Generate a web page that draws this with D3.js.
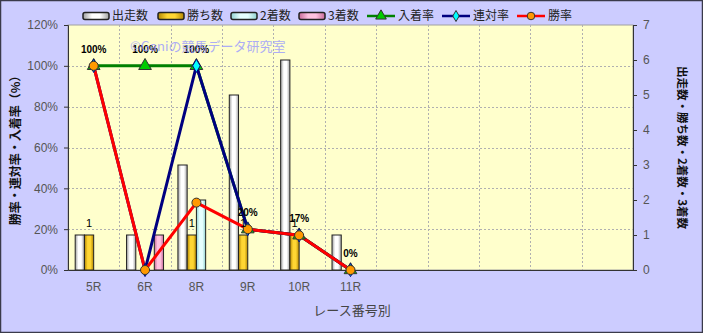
<!DOCTYPE html>
<html>
<head>
<meta charset="utf-8">
<script src="https://cdn.jsdelivr.net/npm/d3@7"></script>
<style>
  body { margin: 0; background: #fff; }
  svg text { font-family: "Liberation Sans", "Noto Sans CJK JP", sans-serif; }
  .jp { font-family: "Noto Sans CJK JP", sans-serif; }
</style>
</head>
<body>
<div id="chart"></div>
<script>
// categories (11 slots, only the first 6 used)
const races = ["5R", "6R", "8R", "9R", "10R", "11R", "", "", "", "", ""];

// bar series (right axis, counts)
const starts  = [1, 1, 3, 5, 6, 1];
const wins    = [1, 0, 1, 1, 1, 0];
const seconds = [0, 0, 2, 0, 0, 0];
const thirds  = [0, 1, 0, 0, 0, 0];

// line series (left axis, %)
const placeRate  = [100, 100, 100, 20, 17, 0];
const rentaiRate = [100, 0, 100, 20, 17, 0];
const winRate    = [100, 0, 33, 20, 17, 0];

const leftTicks = [0, 20, 40, 60, 80, 100, 120];
const rightTicks = [0, 1, 2, 3, 4, 5, 6, 7];

const width = 703, height = 333;
const margin = { top: 25, right: 70, bottom: 63, left: 68 };
const plotW = width - margin.left - margin.right;
const plotH = height - margin.top - margin.bottom;

const svg = d3.select("#chart").append("svg")
    .attr("width", width)
    .attr("height", height);

// outer background + border
svg.append("rect")
    .attr("x", 0.5).attr("y", 0.5)
    .attr("width", width - 1).attr("height", height - 1)
    .style("fill", "#ccccff")
    .style("stroke", "#3a3a4a")
    .style("stroke-width", 1.5);

const defs = svg.append("defs");
// bar gradients (left-right shading like the old excel look)
const barColors = [
    { id: "gStart",  light: "#ffffff", dark: "#a0a0a0" },
    { id: "gWin",    light: "#ffd633", dark: "#b38600" },
    { id: "gSecond", light: "#e6ffff", dark: "#8fd0d0" },
    { id: "gThird",  light: "#ffc2e0", dark: "#c76a98" }
];
barColors.forEach(c => {
    const g = defs.append("linearGradient").attr("id", c.id)
        .attr("x1", "0%").attr("x2", "100%").attr("y1", "0%").attr("y2", "0%");
    g.append("stop").attr("offset", "0%").attr("stop-color", c.dark);
    g.append("stop").attr("offset", "35%").attr("stop-color", c.light);
    g.append("stop").attr("offset", "65%").attr("stop-color", c.light);
    g.append("stop").attr("offset", "100%").attr("stop-color", c.dark);
});

const g = svg.append("g")
    .attr("transform", "translate(" + margin.left + "," + margin.top + ")");

// plot area
g.append("rect")
    .attr("width", plotW).attr("height", plotH)
    .style("fill", "#ffffcc")
    .style("stroke", "#a0a0a0")
    .style("stroke-width", 1);

// scales
const x = d3.scaleBand().domain(d3.range(races.length)).range([0, plotW]).padding(0);
const series = ["start", "win", "second", "third"];
const xs = d3.scaleBand().domain(series)
    .range([x.step() * 0.14, x.step() * 0.86]).padding(0);
const yL = d3.scaleLinear().domain([0, 120]).range([plotH, 0]);
const yR = d3.scaleLinear().domain([0, 7]).range([plotH, 0]);

// gridlines
g.append("g").selectAll("line")
    .data(leftTicks.slice(1, -1))
    .enter().append("line")
    .attr("x1", 0).attr("x2", plotW)
    .attr("y1", d => Math.round(yL(d)) + 0.5).attr("y2", d => Math.round(yL(d)) + 0.5)
    .style("stroke", "#b0b0b0").style("stroke-dasharray", "2,2");
g.append("g").selectAll("line")
    .data(d3.range(1, races.length))
    .enter().append("line")
    .attr("x1", d => Math.round(x(d)) + 0.5).attr("x2", d => Math.round(x(d)) + 0.5)
    .attr("y1", 0).attr("y2", plotH)
    .style("stroke", "#b0b0b0").style("stroke-dasharray", "2,2");

// bars
const barSeries = [
    { key: "start", values: starts, fill: "url(#gStart)" },
    { key: "win", values: wins, fill: "url(#gWin)" },
    { key: "second", values: seconds, fill: "url(#gSecond)" },
    { key: "third", values: thirds, fill: "url(#gThird)" }
];
barSeries.forEach(s => {
    g.append("g").selectAll("rect")
        .data(s.values.map((v, i) => ({ v, i })).filter(d => d.v > 0))
        .enter().append("rect")
        .attr("x", d => x(d.i) + xs(s.key))
        .attr("y", d => yR(d.v))
        .attr("width", xs.bandwidth())
        .attr("height", d => plotH - yR(d.v))
        .style("fill", s.fill)
        .style("stroke", "#222")
        .style("stroke-width", 1);
});

// axes
const axisL = g.append("g")
    .call(d3.axisLeft(yL).tickValues(leftTicks).tickSize(4).tickFormat(d => d + "%"));
const axisR = g.append("g").attr("transform", "translate(" + plotW + ",0)")
    .call(d3.axisRight(yR).tickValues(rightTicks).tickSize(4).tickFormat(d3.format("d")));
const axisB = g.append("g").attr("transform", "translate(0," + plotH + ")")
    .call(d3.axisBottom(x).tickSize(0).tickFormat(i => races[i]));
[axisL, axisR, axisB].forEach(a => {
    a.select(".domain").style("stroke", "#333");
    a.selectAll(".tick line").style("stroke", "#333");
    a.selectAll("text").style("font-size", "12px").style("fill", "#555")
        .style("font-family", "'Liberation Sans', sans-serif");
});
axisL.selectAll("text").attr("x", -10);
axisR.selectAll("text").attr("x", 10);
axisB.selectAll("text").attr("dy", "1.5em");

// axis titles
svg.append("text").attr("class", "jp")
    .attr("transform", "translate(20," + (margin.top + plotH / 2) + ") rotate(-90)")
    .attr("text-anchor", "middle")
    .style("font-size", "12px").style("font-weight", "bold").style("fill", "#111")
    .text("勝率・連対率・入着率（%）");
svg.append("text").attr("class", "jp")
    .attr("transform", "translate(678," + (margin.top + plotH / 2) + ") rotate(90)")
    .attr("text-anchor", "middle")
    .style("font-size", "11.5px").style("font-weight", "bold").style("fill", "#111")
    .text("出走数・勝ち数・2着数・3着数");
svg.append("text").attr("class", "jp")
    .attr("x", 352).attr("y", 315)
    .attr("text-anchor", "middle")
    .style("font-size", "13px").style("fill", "#444")
    .text("レース番号別");

// watermark
svg.append("text").attr("class", "jp")
    .attr("x", 130).attr("y", 51)
    .style("font-size", "13px").style("fill", "#9999ff").style("opacity", 0.8)
    .text("©Ganiの競馬データ研究室");

// lines
const cx = i => x(i) + x.bandwidth() / 2;
const line = d3.line().x((d, i) => cx(i)).y(d => yL(d));
const lineSeries = [
    { key: "place", values: placeRate, color: "#008000", marker: "triangle", mfill: "#00cc00" },
    { key: "rentai", values: rentaiRate, color: "#000080", marker: "diamond", mfill: "#00ffff" },
    { key: "win", values: winRate, color: "#ff0000", marker: "circle", mfill: "#ff9900" }
];
lineSeries.forEach(s => {
    g.append("path")
        .datum(s.values)
        .attr("d", line)
        .style("fill", "none")
        .style("stroke", s.color)
        .style("stroke-width", 3)
        .style("stroke-linejoin", "round");
});
const symbolOf = { triangle: d3.symbolTriangle, diamond: d3.symbolDiamond, circle: d3.symbolCircle };
const sizeOf = { triangle: 70, diamond: 50, circle: 64 };
lineSeries.forEach(s => {
    g.append("g").selectAll("path")
        .data(s.values)
        .enter().append("path")
        .attr("transform", (d, i) => "translate(" + cx(i) + "," + yL(d) + ")")
        .attr("d", d3.symbol().type(symbolOf[s.marker]).size(sizeOf[s.marker]))
        .style("fill", s.mfill)
        .style("stroke", s.marker === "diamond" ? "#000080" : "#333")
        .style("stroke-width", 1);
});

// data labels for 入着率
g.append("g").selectAll("text")
    .data(placeRate)
    .enter().append("text")
    .attr("x", (d, i) => cx(i))
    .attr("y", d => yL(d) - 13)
    .attr("text-anchor", "middle")
    .style("font-size", "10px").style("font-weight", "bold").style("fill", "#000")
    .text(d => d + "%");

// data labels for 勝ち数
g.append("g").selectAll("text")
    .data(wins.map((v, i) => ({ v, i })).filter(d => d.v > 0))
    .enter().append("text")
    .attr("x", d => x(d.i) + xs("win") + xs.bandwidth() / 2)
    .attr("y", d => yR(d.v) - 8)
    .attr("text-anchor", "middle")
    .style("font-size", "11px").style("fill", "#000")
    .text(d => d.v);

// legend
const legendItems = [
    { label: "出走数", type: "bar", fill: "url(#gStart)", x: 83 },
    { label: "勝ち数", type: "bar", fill: "url(#gWin)", x: 158 },
    { label: "2着数", type: "bar", fill: "url(#gSecond)", x: 231 },
    { label: "3着数", type: "bar", fill: "url(#gThird)", x: 299 },
    { label: "入着率", type: "line", s: lineSeries[0], x: 367 },
    { label: "連対率", type: "line", s: lineSeries[1], x: 442 },
    { label: "勝率", type: "line", s: lineSeries[2], x: 517 }
];
const legend = svg.append("g").attr("transform", "translate(0,16)");
legendItems.forEach(it => {
    const lg = legend.append("g").attr("transform", "translate(" + it.x + ",0)");
    if (it.type === "bar") {
        lg.append("rect")
            .attr("x", 0).attr("y", -3.5).attr("width", 26).attr("height", 7)
            .attr("rx", 2)
            .style("fill", it.fill).style("stroke", "#222").style("stroke-width", 1.5);
    } else {
        lg.append("line").attr("x1", 0).attr("x2", 28).attr("y1", 0).attr("y2", 0)
            .style("stroke", it.s.color).style("stroke-width", 2.5);
        lg.append("path")
            .attr("transform", "translate(14,0)")
            .attr("d", d3.symbol().type(symbolOf[it.s.marker]).size(sizeOf[it.s.marker] * 0.7))
            .style("fill", it.s.mfill).style("stroke", "#333");
    }
    lg.append("text").attr("class", "jp")
        .attr("x", it.type === "bar" ? 29 : 31).attr("y", 0).attr("dy", "0.36em")
        .style("font-size", "12px").style("fill", "#222")
        .text(it.label);
});
</script>
</body>
</html>
